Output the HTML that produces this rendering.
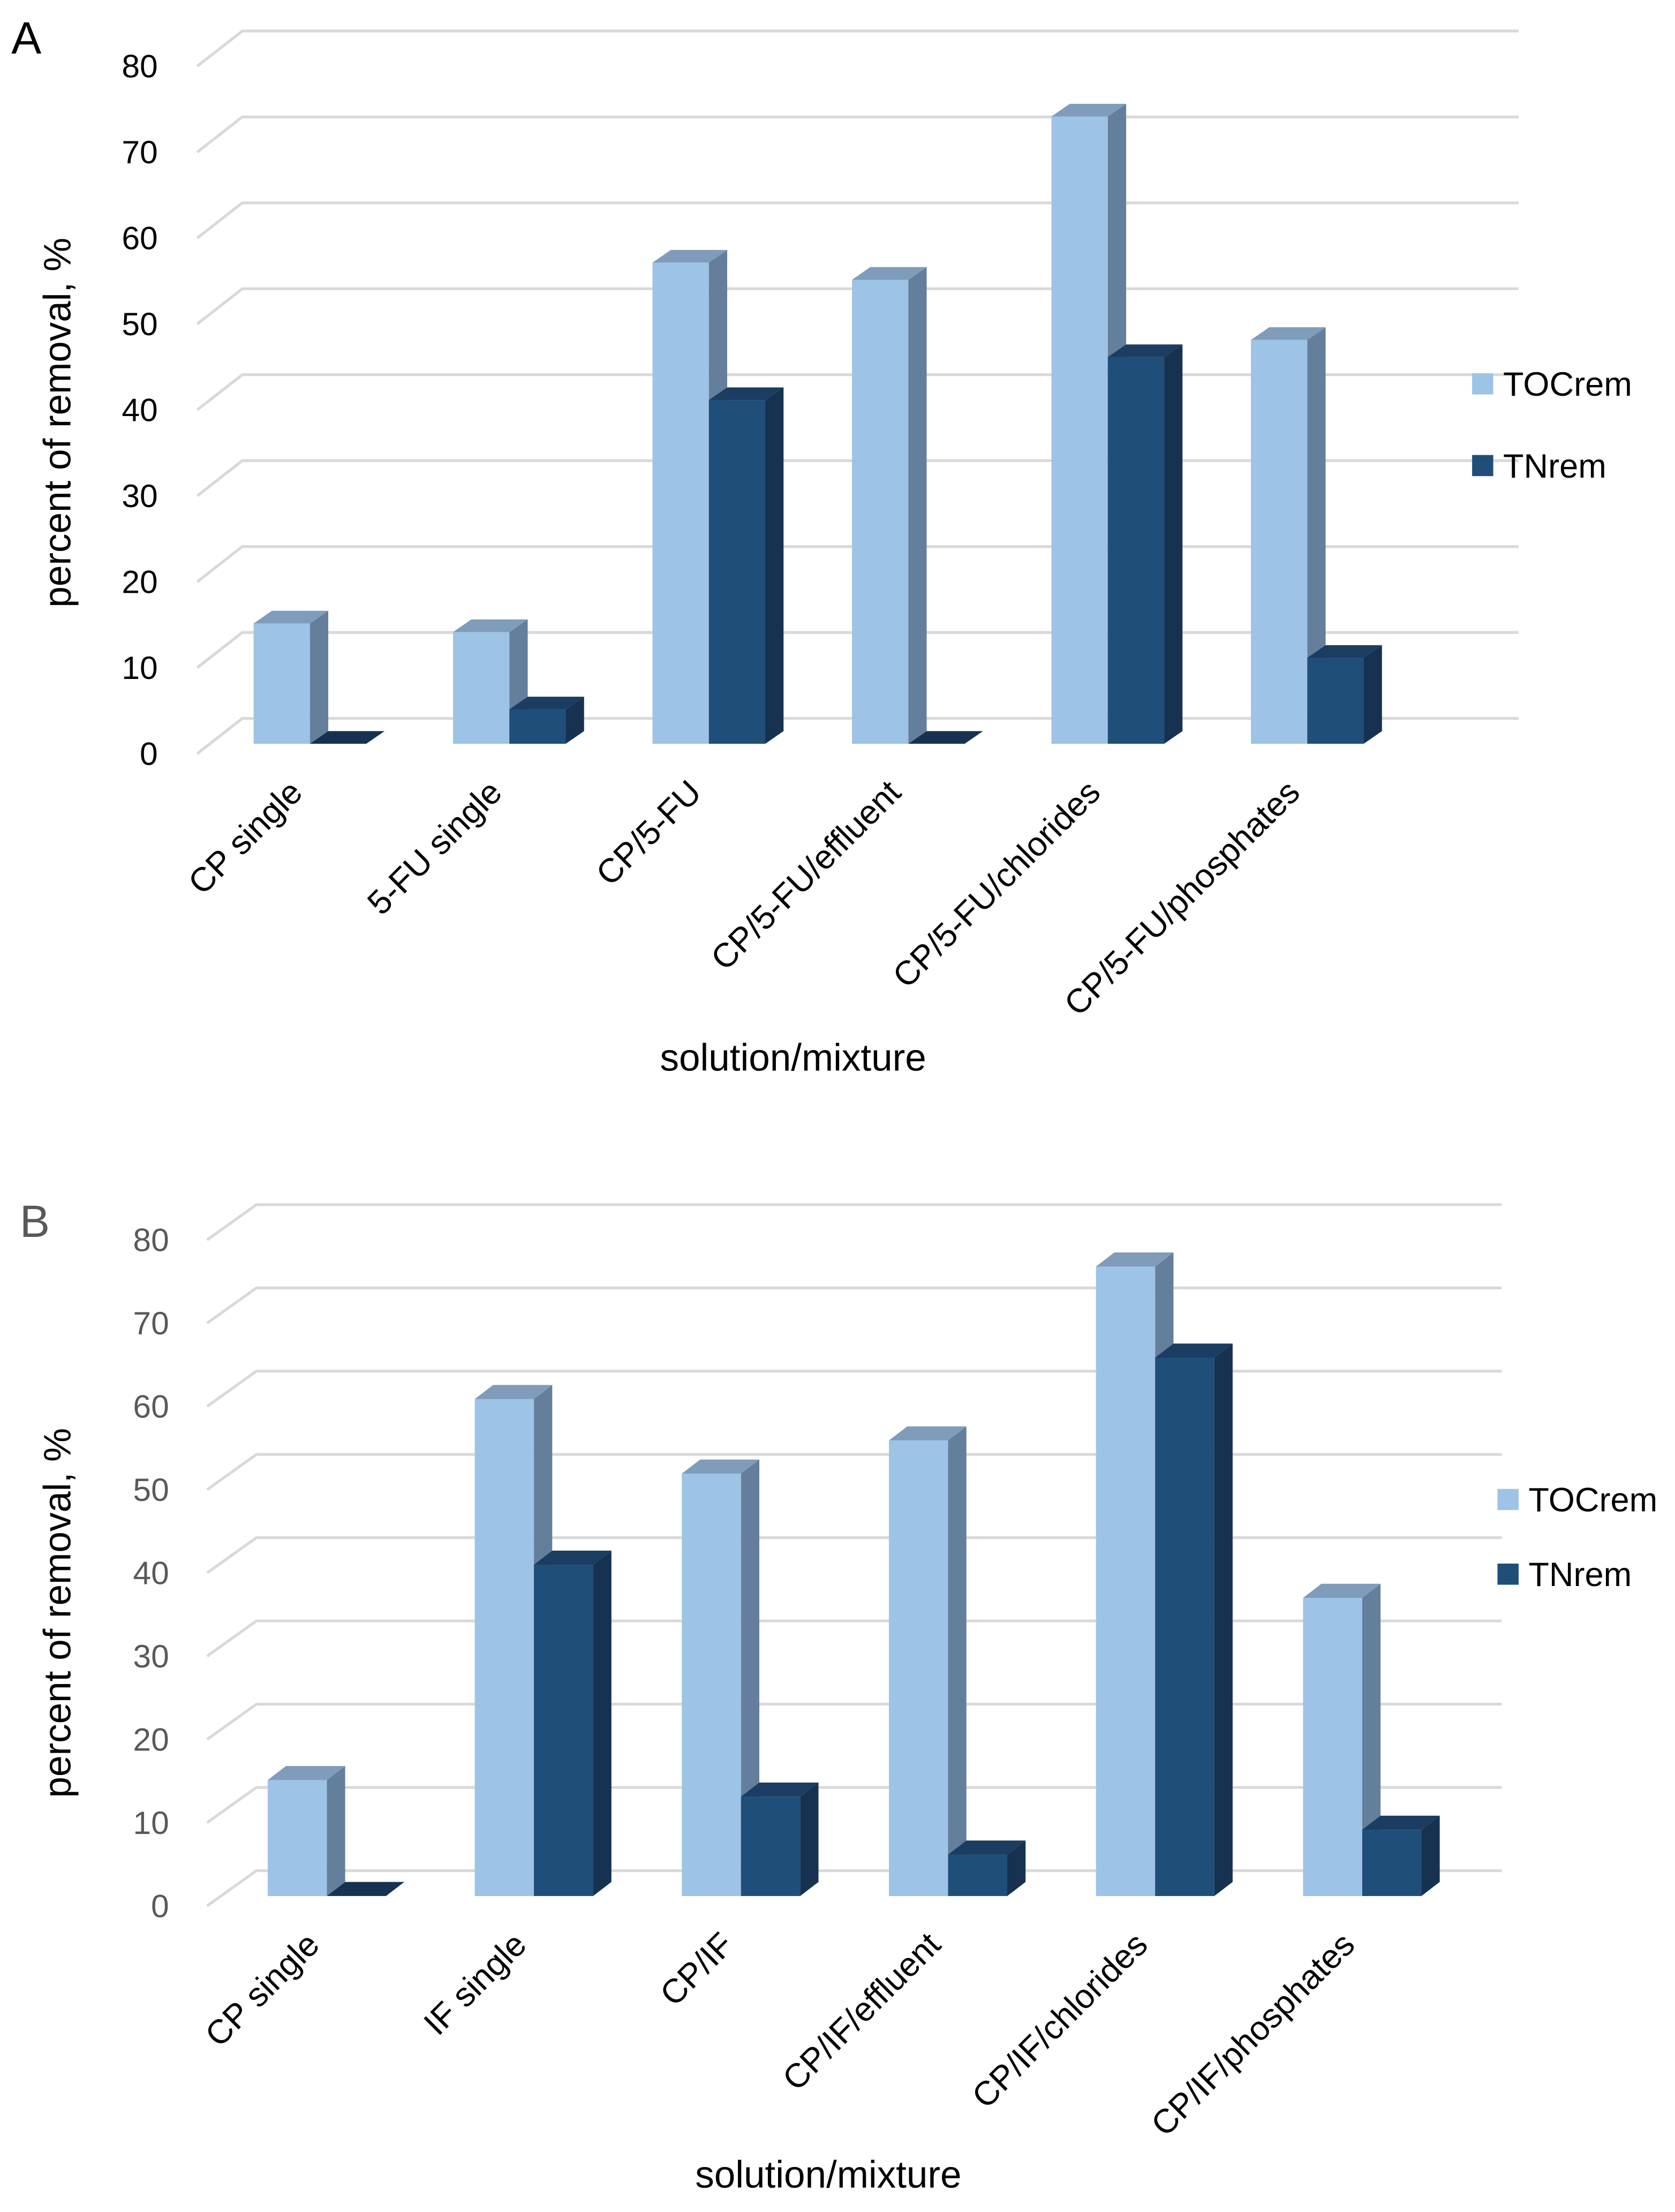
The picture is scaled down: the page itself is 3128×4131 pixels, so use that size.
<!DOCTYPE html>
<html><head><meta charset="utf-8"><style>
html,body{margin:0;padding:0;background:#fff;}
svg{display:block;}
text{font-family:"Liberation Sans",sans-serif;}
</style></head><body>
<svg id="chart" width="3128" height="4131" viewBox="0 0 1189 1570.3" xmlns="http://www.w3.org/2000/svg"></svg>
<script>
const catsA = ["CP single","5-FU single","CP/5-FU","CP/5-FU/effluent","CP/5-FU/chlorides","CP/5-FU/phosphates"];
const tocA = [14,13,56,54,73,47];
const tnA = [0,4,40,0,45,10];
const catsB = ["CP single","IF single","CP/IF","CP/IF/effluent","CP/IF/chlorides","CP/IF/phosphates"];
const tocB = [14,60,51,55,76,36];
const tnB = [0,40,12,5,65,8];
const yTicks = [0,10,20,30,40,50,60,70,80];
const seriesNames = ["TOCrem","TNrem"];

const NS="http://www.w3.org/2000/svg";
const svg=document.getElementById('chart');
function mk(tag,attrs,parent){const e=document.createElementNS(NS,tag);for(const k in attrs)e.setAttribute(k,attrs[k]);(parent||svg).appendChild(e);return e;}

function panel(cfg,cats,toc,tn){
  const g=mk('g',{});
  
  
  const yBack=v=>cfg.backBase - v*cfg.backScale;
  const yFront=v=>cfg.frontBase - v*cfg.scale;
  yTicks.forEach(v=>{
    const yb=yBack(v);
    const l=mk('polyline',{points:`${cfg.axX},${yb+cfg.floorDy} ${cfg.backX},${yb} ${cfg.rightX},${yb}`,fill:'none',stroke:'#d9d9d9','stroke-width':2},g);
    
    
    const t=mk('text',{x:cfg.labX,y:yb+cfg.floorDy+8,'text-anchor':'end','font-size':23,fill:cfg.tickColor},g);
    t.textContent=v;
    
    
  });
  const cols=[{f:'#9dc3e6',s:'#647f9c',c:'#7f9cbb'},{f:'#1f4e79',s:'#163250',c:'#1b3d61'}];
  cats.forEach((c,i)=>{
    const x0=cfg.x0+i*cfg.step;
    [toc[i],tn[i]].forEach((v,j)=>{
      const x=x0+j*cfg.bw, yt=yFront(v), yb=cfg.frontBase, dx=cfg.dx, dy=cfg.dy;
      const bg=mk('g',{},g);
      
      
      if(v>0) mk('rect',{x:x,y:yt,width:cfg.bw,height:yb-yt,fill:cols[j].f},bg);
      mk('polygon',{points:`${x+cfg.bw},${yt} ${x+cfg.bw+dx},${yt-dy} ${x+cfg.bw+dx},${yb-dy} ${x+cfg.bw},${yb}`,fill:cols[j].s},bg);
      mk('polygon',{points:`${x},${yt} ${x+dx},${yt-dy} ${x+cfg.bw+dx},${yt-dy} ${x+cfg.bw},${yt}`,fill:v>0?cols[j].c:cols[j].s},bg);
    });
    const lx=x0+cfg.bw-4, ly=cfg.frontBase+36;
    const t=mk('text',{x:lx,y:ly,'text-anchor':'end','font-size':24,fill:'#000',transform:`rotate(-45 ${lx} ${ly})`},g);
    t.textContent=c;
    
    
  });
  const yt=mk('text',{x:0,y:0,'text-anchor':'middle','font-size':27,fill:'#000',transform:`translate(${cfg.ytX},${cfg.ytY}) rotate(-90)`},g);
  yt.textContent='percent of removal, %';
  
  
  const xt=mk('text',{x:cfg.xtX,y:cfg.xtY,'text-anchor':'middle','font-size':27,fill:'#000'},g);
  xt.textContent='solution/mixture';
  
  
  const pl=mk('text',{x:cfg.plX,y:cfg.plY,'font-size':32,fill:cfg.plColor},g);
  pl.textContent=cfg.letter;
  
  
  seriesNames.forEach((n,k)=>{
    const le=mk('g',{},g);
    
    
    mk('rect',{x:cfg.lgX,y:cfg.lgY+k*cfg.lgStep-8,width:15,height:15,fill:cols[k].f},le);
    const t=mk('text',{x:cfg.lgX+22,y:cfg.lgY+k*cfg.lgStep+8,'font-size':24,fill:'#000'},le);
    t.textContent=n;
  });
}
panel({name:'panel-a',backBase:510,backScale:6.1,floorDy:25,axX:140,backX:172,rightX:1078,labX:112,tickColor:'#000',
  frontBase:528,scale:6.1,x0:180,step:141.6,bw:40,dx:13,dy:9,ytX:50,ytY:300,xtX:563,xtY:760,plX:8,plY:38,plColor:'#000',letter:'A',
  lgX:1045,lgY:273,lgStep:58},catsA,tocA,tnA);
panel({name:'panel-b',backBase:1328,backScale:5.91,floorDy:25,axX:147,backX:182,rightX:1066,labX:120,tickColor:'#595959',
  frontBase:1346,scale:5.88,x0:190,step:147,bw:42,dx:13,dy:10,ytX:50,ytY:1145,xtX:588,xtY:1553,plX:14,plY:878,plColor:'#595959',letter:'B',
  lgX:1063,lgY:1065,lgStep:53},catsB,tocB,tnB);
</script>
</body></html>
